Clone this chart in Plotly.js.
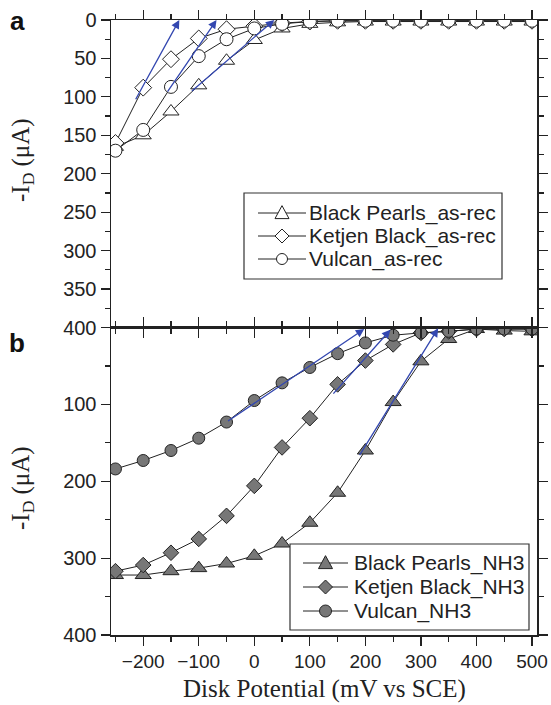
<!DOCTYPE html>
<html>
<head>
<meta charset="utf-8">
<script src="https://cdn.plot.ly/plotly-3.0.1.min.js"></script>
<style>html,body{margin:0;padding:0;background:#fff}#chart{width:551px;height:705px}</style>
</head>
<body>
<div id="chart"></div>
<script>
// Disk potential (mV vs SCE)
const potential = [-250,-200,-150,-100,-50,0,50,100,150,200,250,300,350,400,450,500];

// Panel a: as-received carbons, -I_D (uA)
const bpAsRec = [165,150,119,85,53,26,11,5,3,2,2,2,2,2,2,2];
const kbAsRec = [160,88,51,24,12,8,4,2,1,1,1,1,1,1,1,1];
const vuAsRec = [170,143,87,47,25,11,5,2,1,1,1,1,1,1,1,1];

// Panel b: NH3-treated carbons, -I_D (uA)
const bpNH3 = [322,322,317,313,307,297,281,254,215,160,97,44,15,2,4,5];
const kbNH3 = [317,309,293,275,245,206,156,118,74,43,22,7,5,2,2,2];
const vuNH3 = [184,173,160,144,123,95,72,52,34,20,10,7,5,2,2,2];

// Tangent arrows: [tailX, tailY, headX, headY]
const arrowsA = [[-215,105,-135,0],[-158,95,-68,0],[-115,94,36,0]];
const arrowsB = [[-50,123,198,2],[140,88,245,3],[188,168,331,1]];

const namesA = ['Black Pearls_as-rec','Ketjen Black_as-rec','Vulcan_as-rec'];
const namesB = ['Black Pearls_NH3','Ketjen Black_NH3','Vulcan_NH3'];
const yTicksA = [0,50,100,150,200,250,300,350,400];
const yTicksB = [0,100,200,300,400];
const yTextB = ['','100','200','300','400'];

const lineCol = '#222';
const blue = '#3347b0';
const symbols = ['triangle-up','diamond','circle'];

// plot area geometry (px)
const W = 551, H = 705, ML = 111, MR = 14, MT = 20, MB = 70;
const PW = W - ML - MR, PH = H - MT - MB;
const px2x = p => (p - ML) / PW;
const px2y = p => (H - MB - p) / PH;

function tr(y, name, sym, size, fill, xa, ya) {
  return {
    x: potential, y: y, name: name, type: 'scatter', mode: 'lines+markers',
    xaxis: xa, yaxis: ya, showlegend: false,
    line: {color: lineCol, width: 1},
    marker: {symbol: sym, size: size, color: fill, line: {color: '#222', width: 1}}
  };
}

const data = [
  tr(bpAsRec, namesA[0], 'triangle-up', 14, '#fff', 'x2', 'y2'),
  tr(kbAsRec, namesA[1], 'diamond', 13, '#fff', 'x2', 'y2'),
  tr(vuAsRec, namesA[2], 'circle', 13, '#fff', 'x2', 'y2'),
  tr(bpNH3, namesB[0], 'triangle-up', 14, '#777', 'x', 'y'),
  tr(kbNH3, namesB[1], 'diamond', 12, '#777', 'x', 'y'),
  tr(vuNH3, namesB[2], 'circle', 12, '#777', 'x', 'y')
];

const tickFont = {family: 'Liberation Sans, Arial, sans-serif', size: 19, color: '#222'};
const xCommon = {
  range: [-258, 509], dtick: 100, tick0: 0, showgrid: false, zeroline: false,
  showline: true, linecolor: lineCol, linewidth: 1.5, mirror: 'ticks',
  ticks: 'outside', ticklen: 9, tickwidth: 1.2, tickcolor: lineCol,
  minor: {dtick: 50, ticks: 'outside', ticklen: 5, tickwidth: 1.2, tickcolor: lineCol},
  tickfont: tickFont
};
const yCommon = {
  range: [400, 0], showgrid: false, zeroline: false,
  showline: true, linecolor: lineCol, linewidth: 1.5, mirror: 'ticks',
  ticks: 'outside', ticklen: 9, tickwidth: 1.2, tickcolor: lineCol,
  tickfont: {family: 'Liberation Sans, Arial, sans-serif', size: 20, color: '#222'}
};

const annotations = [];
const shapes = [];
arrowsA.forEach(a => annotations.push({
  x: a[2], y: a[3], ax: a[0], ay: a[1], xref: 'x2', yref: 'y2', axref: 'x2', ayref: 'y2',
  text: '', showarrow: true, arrowhead: 2, arrowsize: 1.3, arrowwidth: 1.3, arrowcolor: blue, standoff: 0
}));
arrowsB.forEach(a => annotations.push({
  x: a[2], y: a[3], ax: a[0], ay: a[1], xref: 'x', yref: 'y', axref: 'x', ayref: 'y',
  text: '', showarrow: true, arrowhead: 2, arrowsize: 1.3, arrowwidth: 1.3, arrowcolor: blue, standoff: 0
}));
const serif = 'Liberation Serif, Times New Roman, serif';
const sans = 'Liberation Sans, Arial, sans-serif';
annotations.push(
  {text: 'Disk Potential (mV vs SCE)', xref: 'paper', yref: 'paper', x: 0.5, y: px2y(689),
   xanchor: 'center', yanchor: 'middle', showarrow: false, font: {family: serif, size: 25, color: '#222'}},
  {text: '-I<sub>D</sub> (μA)', xref: 'paper', yref: 'paper', x: px2x(22), y: px2y(160), textangle: -90,
   xanchor: 'center', yanchor: 'middle', showarrow: false, font: {family: serif, size: 25, color: '#222'}},
  {text: '-I<sub>D</sub> (μA)', xref: 'paper', yref: 'paper', x: px2x(22), y: px2y(488), textangle: -90,
   xanchor: 'center', yanchor: 'middle', showarrow: false, font: {family: serif, size: 25, color: '#222'}},
  {text: '<b>a</b>', xref: 'paper', yref: 'paper', x: px2x(17), y: px2y(21), xanchor: 'center', yanchor: 'middle',
   showarrow: false, font: {family: sans, size: 26, color: '#111'}},
  {text: '<b>b</b>', xref: 'paper', yref: 'paper', x: px2x(17), y: px2y(343), xanchor: 'center', yanchor: 'middle',
   showarrow: false, font: {family: sans, size: 26, color: '#111'}}
);

// Hand-built legends (box, sample line, symbol, label)
function symbolShape(sym, cxp, cyp, fill, s) {
  const base = {xref: 'paper', yref: 'paper', xsizemode: 'pixel', ysizemode: 'pixel',
    xanchor: px2x(cxp), yanchor: px2y(cyp), fillcolor: fill, line: {color: '#222', width: 1}};
  if (sym === 'circle') {
    return Object.assign(base, {type: 'circle', x0: -s/2, x1: s/2, y0: -s/2, y1: s/2});
  }
  if (sym === 'diamond') {
    const h = s/2;
    return Object.assign(base, {type: 'path', path: `M ${-h} 0 L 0 ${h} L ${h} 0 L 0 ${-h} Z`});
  }
  const h = s/2;
  return Object.assign(base, {type: 'path', path: `M ${-h} ${-h*0.8} L ${h} ${-h*0.8} L 0 ${h*1.05} Z`});
}
function buildLegend(names, box, rows, lineX, textX, fill, sizes, fontSize) {
  shapes.push({type: 'rect', xref: 'paper', yref: 'paper',
    x0: px2x(box[0]), x1: px2x(box[2]), y0: px2y(box[3]), y1: px2y(box[1]),
    fillcolor: '#fff', line: {color: '#333', width: 1.2}});
  names.forEach((nm, i) => {
    shapes.push({type: 'line', xref: 'paper', yref: 'paper',
      x0: px2x(lineX[0]), x1: px2x(lineX[1]), y0: px2y(rows[i]), y1: px2y(rows[i]),
      line: {color: lineCol, width: 1}});
    shapes.push(symbolShape(symbols[i], (lineX[0] + lineX[1]) / 2, rows[i], fill, sizes[i]));
    annotations.push({text: nm, xref: 'paper', yref: 'paper', x: px2x(textX), y: px2y(rows[i]),
      xanchor: 'left', yanchor: 'middle', showarrow: false, borderpad: 0,
      font: {family: sans, size: fontSize, color: '#222'}});
  });
}
buildLegend(namesA, [244, 193, 502, 279], [213, 236, 259], [258, 306], 308, '#fff', [14, 14, 11], 21);
buildLegend(namesB, [290, 544, 529, 630], [563, 587, 611], [303, 348], 353, '#777', [14, 14, 12], 21);

const layout = {
  width: W, height: H,
  margin: {l: ML, r: MR, t: MT, b: MB},
  paper_bgcolor: '#fff', plot_bgcolor: '#fff',
  showlegend: false,
  xaxis: Object.assign({}, xCommon, {anchor: 'y', showticklabels: true}),
  xaxis2: Object.assign({}, xCommon, {anchor: 'y2', matches: 'x', showticklabels: false}),
  yaxis: Object.assign({}, yCommon, {domain: [0, 0.5], anchor: 'x', tickmode: 'array',
    tickvals: yTicksB, ticktext: yTextB,
    minor: {tickmode: 'array', tickvals: [50,150,250,350], ticks: 'outside', ticklen: 5, tickwidth: 1.2, tickcolor: lineCol}}),
  yaxis2: Object.assign({}, yCommon, {domain: [0.5, 1], anchor: 'x2', tickmode: 'array',
    tickvals: yTicksA,
    minor: {dtick: 25, tick0: 0, ticks: 'outside', ticklen: 5, tickwidth: 1.2, tickcolor: lineCol}}),
  shapes: shapes,
  annotations: annotations
};

Plotly.newPlot('chart', data, layout, {displayModeBar: false, staticPlot: true});
</script>
</body>
</html>
